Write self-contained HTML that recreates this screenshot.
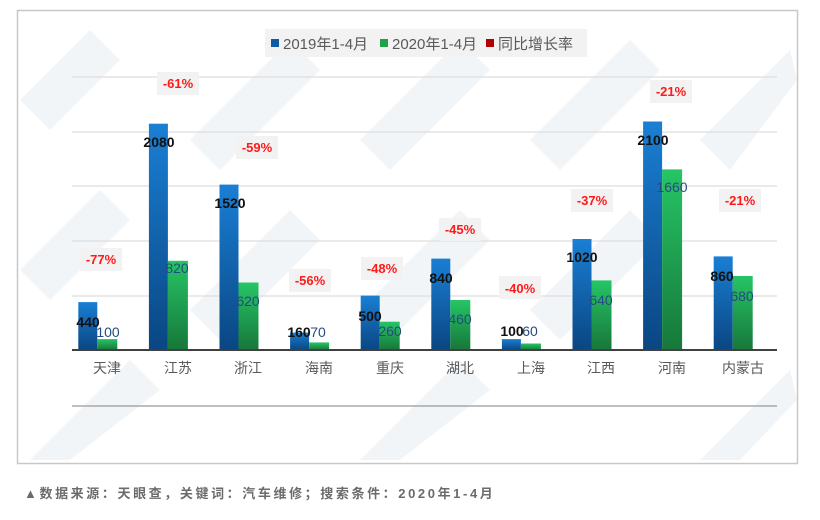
<!DOCTYPE html>
<html><head><meta charset="utf-8"><style>
body{margin:0;background:#fff;width:820px;height:515px;overflow:hidden;font-family:"Liberation Sans","Noto Sans CJK SC",sans-serif}
</style></head><body>
<svg width="820" height="515" xmlns="http://www.w3.org/2000/svg" font-family="'Liberation Sans','Noto Sans CJK SC',sans-serif">
<defs>
<linearGradient id="b" x1="0" y1="0" x2="0" y2="1"><stop offset="0" stop-color="#1a7fd4"/><stop offset="1" stop-color="#0a4682"/></linearGradient>
<linearGradient id="g" x1="0" y1="0" x2="0" y2="1"><stop offset="0" stop-color="#26c566"/><stop offset="1" stop-color="#17773a"/></linearGradient>
</defs>
<rect x="17.5" y="10.5" width="780" height="453" fill="#fff" stroke="#c8c8c8" stroke-width="1.5"/>
<g fill="#f2f5f8">
<polygon points="20,100 90,30 120,60 50,130"/>
<polygon points="20,270 100,190 130,220 50,300"/>
<polygon points="190,140 290,40 320,70 220,170"/>
<polygon points="190,310 290,210 320,240 220,340"/>
<polygon points="360,140 460,40 490,70 390,170"/>
<polygon points="360,310 460,210 490,240 390,340"/>
<polygon points="530,140 630,40 660,70 560,170"/>
<polygon points="530,310 630,210 660,240 560,340"/>
<polygon points="700,140 790,50 797,80 730,170"/>
<polygon points="30,460 130,360 160,390 70,460"/>
<polygon points="360,460 460,360 490,390 400,460"/>
<polygon points="700,460 790,370 797,400 740,460"/>
</g>
<g stroke="#dedede" stroke-width="1.2">
<line x1="72" y1="77" x2="777" y2="77"/><line x1="72" y1="132" x2="777" y2="132"/>
<line x1="72" y1="186" x2="777" y2="186"/><line x1="72" y1="241" x2="777" y2="241"/>
<line x1="72" y1="296" x2="777" y2="296"/>
</g>
<line x1="72" y1="406" x2="777" y2="406" stroke="#999" stroke-width="1.2"/>
<rect x="265" y="29" width="322" height="28" fill="#f2f2f2"/>
<rect x="271" y="39" width="8" height="8" fill="#0d5aa7"/>
<text x="283" y="49" font-size="15" fill="#595959">2019年1-4月</text>
<rect x="380" y="39" width="8" height="8" fill="#1fa34a"/>
<text x="392" y="49" font-size="15" fill="#595959">2020年1-4月</text>
<rect x="486" y="39" width="8" height="8" fill="#b00000"/>
<text x="498" y="49" font-size="15" fill="#595959">同比增长率</text>
<g>
<rect x="78.3" y="302.1" width="19" height="47.9" fill="url(#b)"/><rect x="97.3" y="339.1" width="20" height="10.9" fill="url(#g)"/>
<rect x="148.9" y="123.7" width="19" height="226.3" fill="url(#b)"/><rect x="167.9" y="260.8" width="20" height="89.2" fill="url(#g)"/>
<rect x="219.5" y="184.6" width="19" height="165.4" fill="url(#b)"/><rect x="238.5" y="282.5" width="20" height="67.5" fill="url(#g)"/>
<rect x="290.1" y="332.6" width="19" height="17.4" fill="url(#b)"/><rect x="309.1" y="342.4" width="20" height="7.6" fill="url(#g)"/>
<rect x="360.7" y="295.6" width="19" height="54.4" fill="url(#b)"/><rect x="379.7" y="321.7" width="20" height="28.3" fill="url(#g)"/>
<rect x="431.3" y="258.6" width="19" height="91.4" fill="url(#b)"/><rect x="450.3" y="300" width="20" height="50" fill="url(#g)"/>
<rect x="501.9" y="339.1" width="19" height="10.9" fill="url(#b)"/><rect x="520.9" y="343.5" width="20" height="6.5" fill="url(#g)"/>
<rect x="572.5" y="239" width="19" height="111" fill="url(#b)"/><rect x="591.5" y="280.4" width="20" height="69.6" fill="url(#g)"/>
<rect x="643.1" y="121.5" width="19" height="228.5" fill="url(#b)"/><rect x="662.1" y="169.4" width="20" height="180.6" fill="url(#g)"/>
<rect x="713.7" y="256.4" width="19" height="93.6" fill="url(#b)"/><rect x="732.7" y="276" width="20" height="74" fill="url(#g)"/>
</g>
<line x1="72" y1="350" x2="777" y2="350" stroke="#404040" stroke-width="2"/>
<g font-size="14" fill="#595959" text-anchor="middle">
<text x="107" y="373">天津</text><text x="178" y="373">江苏</text><text x="248" y="373">浙江</text>
<text x="319" y="373">海南</text><text x="390" y="373">重庆</text><text x="460" y="373">湖北</text>
<text x="531" y="373">上海</text><text x="601" y="373">江西</text><text x="672" y="373">河南</text><text x="743" y="373">内蒙古</text>
</g>
<g font-size="14" font-weight="bold" fill="#111" text-anchor="middle">
<text x="88" y="327">440</text><text x="159" y="147">2080</text><text x="230" y="208">1520</text>
<text x="299" y="337">160</text><text x="370" y="321">500</text><text x="441" y="283">840</text>
<text x="512" y="336">100</text><text x="582" y="262">1020</text><text x="653" y="145">2100</text><text x="722" y="281">860</text>
</g>
<g font-size="14" fill="#254a80" text-anchor="middle">
<text x="108" y="337">100</text><text x="177" y="273">820</text><text x="248" y="306">620</text>
<text x="318" y="337">70</text><text x="390" y="336">260</text><text x="460" y="324">460</text>
<text x="530" y="336">60</text><text x="601" y="305">640</text><text x="672" y="192">1660</text><text x="742" y="301">680</text>
</g>
<g font-size="13" font-weight="bold" fill="#ff1a1a" text-anchor="middle">
<rect x="80" y="248" width="42" height="23" fill="#f2f2f2"/><text x="101" y="264">-77%</text>
<rect x="157" y="72" width="42" height="23" fill="#f2f2f2"/><text x="178" y="88">-61%</text>
<rect x="236" y="136" width="42" height="23" fill="#f2f2f2"/><text x="257" y="152">-59%</text>
<rect x="289" y="269" width="42" height="23" fill="#f2f2f2"/><text x="310" y="285">-56%</text>
<rect x="361" y="257" width="42" height="23" fill="#f2f2f2"/><text x="382" y="273">-48%</text>
<rect x="439" y="218" width="42" height="23" fill="#f2f2f2"/><text x="460" y="234">-45%</text>
<rect x="499" y="276" width="42" height="23" fill="#f2f2f2"/><text x="520" y="293">-40%</text>
<rect x="571" y="189" width="42" height="23" fill="#f2f2f2"/><text x="592" y="205">-37%</text>
<rect x="650" y="80" width="42" height="23" fill="#f2f2f2"/><text x="671" y="96">-21%</text>
<rect x="719" y="189" width="42" height="23" fill="#f2f2f2"/><text x="740" y="205">-21%</text>
</g>
<text x="24" y="498" font-size="13" font-weight="bold" fill="#6b6b6b" letter-spacing="2.6">▲数据来源：天眼查，关键词：汽车维修；搜索条件：2020年1-4月</text>
</svg>
</body></html>
